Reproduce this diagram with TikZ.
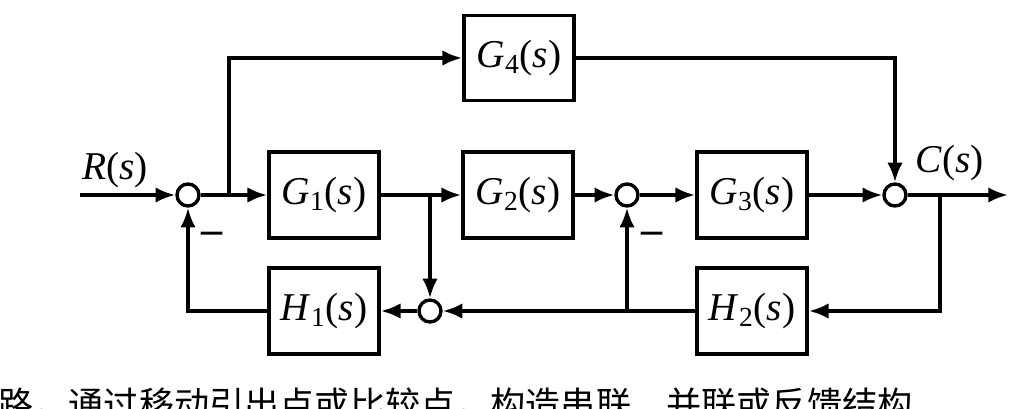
\documentclass[tikz,border=0pt]{standalone}
\usepackage{fontspec}
\setmainfont{Liberation Serif}
\newfontfamily\cjk{Noto Sans CJK SC}
\usetikzlibrary{arrows.meta}
\newcommand{\tf}[2]{\textit{#1}\textsubscript{#2}(\textit{s})}
\begin{document}
\begin{tikzpicture}[x=0.025cm,y=-0.025cm,
  line width=2.6pt,
  blk/.style={draw,minimum width=110*0.025cm,minimum height=86*0.025cm,inner sep=0pt,font=\fontsize{28}{32}\selectfont},
  sum/.style={draw,circle,minimum size=22*0.025cm,inner sep=0pt,line width=2.4pt,fill=white},
  arr/.style={-{Latex[length=14pt,width=11pt]}},
  lbl/.style={font=\fontsize{28}{32}\selectfont},
  neg/.style={font=\bfseries\fontsize{30}{32}\selectfont}]
\useasboundingbox (0,0) rectangle (1020,408);
\node[blk,minimum height=85*0.025cm] (g4) at (519,58) {\tf{G}{4}};
\node[blk] (g1) at (324,195) {\tf{G}{1}};
\node[blk] (g2) at (518,195) {\tf{G}{2}};
\node[blk] (g3) at (752,195) {\tf{G}{3}};
\node[blk] (h1) at (324,311) {\tf{H}{1}};
\node[blk] (h2) at (752,311) {\tf{H}{2}};
\node[sum] (s1) at (188,195) {};
\node[sum] (s2) at (627,195) {};
\node[sum] (s3) at (895,195) {};
\node[sum] (s4) at (430,311) {};
\coordinate (in) at (80,195);
\coordinate (out) at (1008,195);
\coordinate (b1) at (229,195);
\coordinate (b2) at (430,195);
\coordinate (b3) at (940,195);
\coordinate (b4) at (627,311);
\node[lbl] (r) at (115,170) {\textit{R}(\textit{s})};
\node[lbl] (c) at (950,163) {\textit{C}(\textit{s})};
\node[neg] (m1) at (212,238) {–};
\node[neg] (m2) at (652,238) {–};
\draw[arr] (in) -- (s1);
\draw[arr] (s1) -- (g1);
\draw[arr] (b1) |- (g4);
\draw[arr] (g4) -| (s3);
\draw[arr] (g1) -- (g2);
\draw[arr] (g2) -- (s2);
\draw[arr] (s2) -- (g3);
\draw[arr] (g3) -- (s3);
\draw[arr] (s3) -- (out);
\draw[arr] (b2) -- (s4);
\draw[arr] (b3) |- (h2);
\draw[arr] (h2) -- (s4);
\draw[arr] (b4) -- (s2);
\draw[arr] (s4) -- (h1);
\draw[arr] (h1) -| (s1);
\begin{scope}
\clip (0,0) rectangle (1020,408);
\node[anchor=west,font=\cjk\fontsize{25}{28}\selectfont] (t) at (-8,405) {路，通过移动引出点或比较点，构造串联、并联或反馈结构};
\end{scope}
\end{tikzpicture}
\end{document}
